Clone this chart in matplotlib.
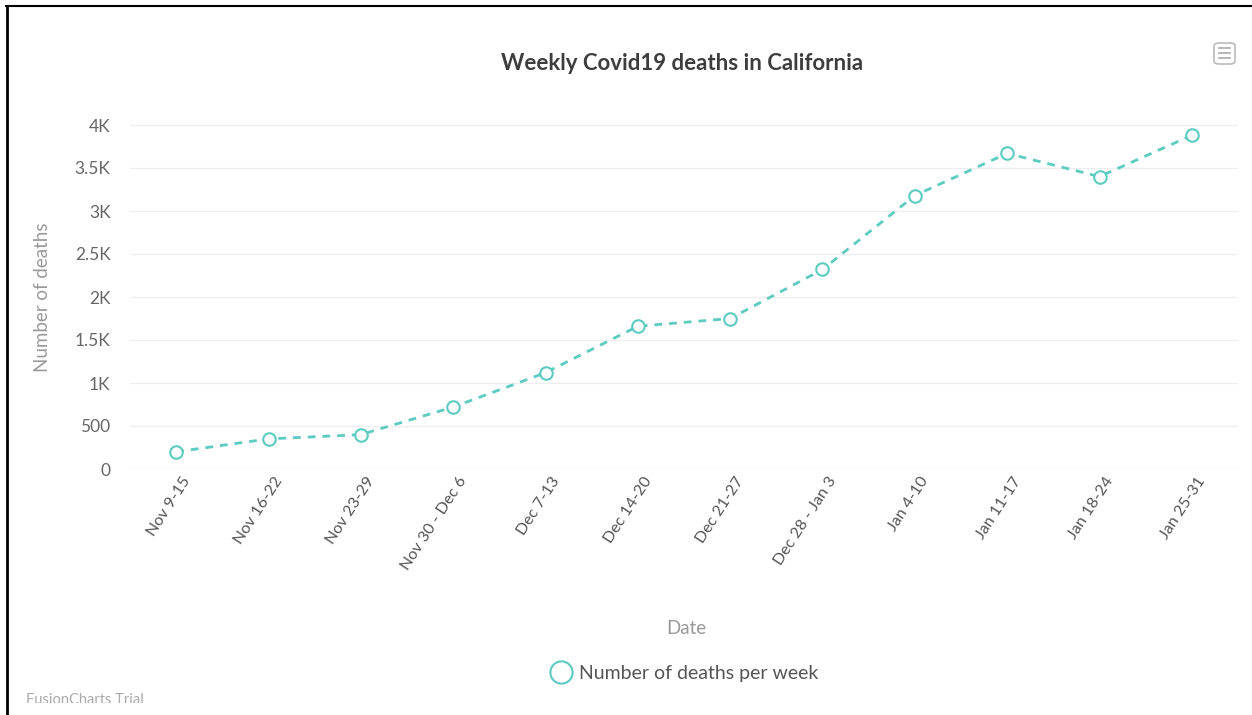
import matplotlib
matplotlib.use("Agg")
import matplotlib.pyplot as plt
from matplotlib.lines import Line2D
from matplotlib.patches import FancyBboxPatch, Rectangle

weeks = ["Nov 9-15", "Nov 16-22", "Nov 23-29", "Nov 30 - Dec 6", "Dec 7-13",
         "Dec 14-20", "Dec 21-27", "Dec 28 - Jan 3", "Jan 4-10", "Jan 11-17",
         "Jan 18-24", "Jan 25-31"]
deaths = [200, 350, 400, 720, 1120, 1660, 1750, 2320, 3180, 3670, 3400, 3880]
yticks = [0, 500, 1000, 1500, 2000, 2500, 3000, 3500, 4000]
ytick_labels = ["0", "500", "1K", "1.5K", "2K", "2.5K", "3K", "3.5K", "4K"]

plt.rcParams['font.family'] = ['Lato', 'DejaVu Sans']
W, H = 1252, 715
fig = plt.figure(figsize=(W / 100, H / 100), dpi=100)
fig.patch.set_facecolor('white')

ax = fig.add_axes([130 / W, 1 - 469 / H, (1238 - 130) / W, (469 - 125) / H])
color = '#5ccbc1'
x = list(range(len(weeks)))
ax.plot(x, deaths, linestyle=(0, (2.8, 2.5)), color=color, linewidth=2,
        marker='o', markersize=9, markerfacecolor='white',
        markeredgecolor=color, markeredgewidth=1.5, zorder=3, clip_on=False)
ax.set_xlim(-0.5, len(weeks) - 0.5)
ax.set_ylim(0, 4000)
ax.set_yticks(yticks)
ax.set_yticklabels(ytick_labels)
ax.set_xticks(x)
ax.set_xticklabels(weeks, rotation=57, ha='right', rotation_mode='anchor')
for s in ax.spines.values():
    s.set_visible(False)
ax.grid(axis='y', color='#eeeeee', linewidth=1)
ax.set_axisbelow(True)
ax.tick_params(axis='y', length=0, labelsize=12.5, labelcolor='#666666', pad=14)
ax.tick_params(axis='x', length=0, labelsize=11.5, labelcolor='#555555', pad=4)
for lab in ax.get_xticklabels():
    lab.set_transform(lab.get_transform() + matplotlib.transforms.ScaledTranslation(5 / 100, 0, fig.dpi_scale_trans))

fig.text(682 / W, 1 - 63 / H, "Weekly Covid19 deaths in California", ha='center',
         va='center', fontsize=16, color='#3d3d3d', fontweight='bold')
fig.text(43 / W, 1 - 297 / H, "Number of deaths", rotation=90, ha='center',
         va='center', fontsize=13.5, color='#999999')
fig.text(686 / W, 1 - 629 / H, "Date", ha='center', va='center',
         fontsize=13.5, color='#999999')
fig.text(26 / W, 1 - 693 / H, "FusionCharts Trial", ha='left', va='top',
         fontsize=10.5, color='#aaaaaa')
fig.patches.append(Rectangle((10 / W, 0), 1, 12 / H, transform=fig.transFigure,
                             facecolor='white', edgecolor='none', zorder=10))

handle = Line2D([], [], linestyle='none', marker='o', markersize=16,
                markerfacecolor='white', markeredgecolor=color, markeredgewidth=1.5)
leg = fig.legend([handle], ["Number of deaths per week"], loc='center',
                 bbox_to_anchor=(684 / W, 1 - 673 / H), frameon=False,
                 fontsize=14, handletextpad=0.3, handlelength=1.2)
for t in leg.get_texts():
    t.set_color('#555555')

# menu icon
icon = FancyBboxPatch((1214 / W, 1 - 64 / H), 21 / W, 21 / H,
                      boxstyle="round,pad=0,rounding_size=0.004",
                      transform=fig.transFigure, facecolor='white',
                      edgecolor='#bbbbbb', linewidth=1.2)
fig.patches.append(icon)
for yy in (48, 53, 58):
    fig.add_artist(Line2D([1219 / W, 1230 / W], [1 - yy / H, 1 - yy / H],
                          color='#aaaaaa', linewidth=1.2, transform=fig.transFigure))

# black border (top and left)
fig.add_artist(Line2D([6 / W, 1], [1 - 6 / H, 1 - 6 / H], color='black',
                      linewidth=1.5, transform=fig.transFigure, zorder=20))
fig.add_artist(Line2D([7 / W, 7 / W], [0, 1 - 6 / H], color='black',
                      linewidth=2, transform=fig.transFigure, zorder=20))

fig.savefig("out.png", dpi=100)
